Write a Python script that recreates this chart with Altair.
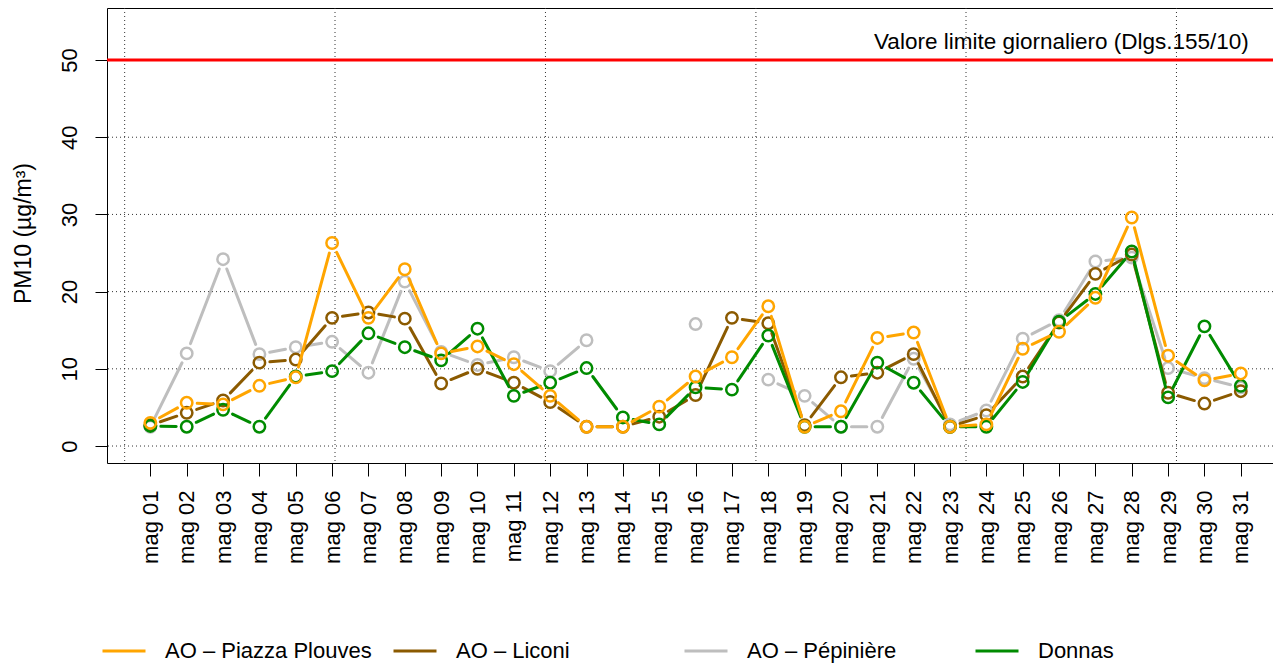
import math
import altair as alt
import pandas as pd

# ---------------- data ----------------
days = [1, 2, 3, 4, 5, 6, 7, 8, 9, 10, 11, 12, 13, 14, 15, 16,
        17, 18, 19, 20, 21, 22, 23, 24, 25, 26, 27, 28, 29, 30, 31]
day_labels = ["mag 01", "mag 02", "mag 03", "mag 04", "mag 05", "mag 06", "mag 07",
              "mag 08", "mag 09", "mag 10", "mag 11", "mag 12", "mag 13", "mag 14",
              "mag 15", "mag 16", "mag 17", "mag 18", "mag 19", "mag 20", "mag 21",
              "mag 22", "mag 23", "mag 24", "mag 25", "mag 26", "mag 27", "mag 28",
              "mag 29", "mag 30", "mag 31"]

series_names = ["AO – Piazza Plouves", "AO – Liconi", "AO – Pépinière", "Donnas"]
series_colors = ["#FFA500", "#8B5A00", "#BEBEBE", "#008B00"]

plouves = [3.0, 5.6, 5.4, 7.8, 8.9, 26.3, 16.6, 22.9, 12.0, 12.9, 10.6, 6.5, 2.5, 2.5,
           5.1, 9.0, 11.5, 18.1, 2.5, 4.5, 14.0, 14.7, 2.5, 2.8, 12.6, 14.8, 19.2,
           29.6, 11.7, 8.5, 9.4]
liconi = [2.7, 4.3, 5.9, 10.8, 11.2, 16.6, 17.3, 16.5, 8.1, 10.0, 8.2, 5.7, 2.5, 2.5,
          3.8, 6.6, 16.6, 15.9, 2.7, 8.9, 9.5, 11.9, 2.5, 4.0, 9.0, 16.0, 22.3, 24.8,
          6.9, 5.5, 7.1]
pepiniere = [2.5, 12.0, 24.2, 11.9, 12.8, 13.5, 9.5, 21.3, 12.2, 10.5, 11.5, 9.7, 13.7,
             None, None, 15.8, None, 8.6, 6.5, 2.5, 2.5, 11.3, 2.8, 4.6, 13.9, 16.3,
             23.9, 24.4, 10.1, 8.8, 7.6]
donnas = [2.6, 2.5, 4.7, 2.5, 9.0, 9.7, 14.6, 12.8, 11.1, 15.2, 6.5, 8.2, 10.1, 3.7,
          2.8, 7.6, 7.3, 14.3, 2.5, 2.5, 10.8, 8.2, 2.5, 2.5, 8.3, 16.1, 19.7, 25.2,
          6.3, 15.5, 7.8]

y_ticks = [0, 10, 20, 30, 40, 50]
x_grid = [0.293, 6.08, 11.87, 17.66, 23.44, 29.23]
limit_value = [50]
limit_label = ["Valore limite giornaliero (Dlgs.155/10)"]

# ---------------- layout / scales ----------------
W, H = 1166, 455
X_DOM = [-0.193, 31.886]
Y_DOM = [-2.2, 56.74]
GAP = 10.5  # px left free around each point (R type = "b")

values = {series_names[0]: plouves, series_names[1]: liconi,
          series_names[2]: pepiniere, series_names[3]: donnas}

# points table
pts_rows = []
for name, vals in values.items():
    for d, v in zip(days, vals):
        if v is not None:
            pts_rows.append({"day": d, "pm10": v, "station": name})
pts_df = pd.DataFrame(pts_rows)

# line segments between consecutive points, shortened like R's type = "b"
kx = W / (X_DOM[1] - X_DOM[0])
ky = H / (Y_DOM[1] - Y_DOM[0])
seg_rows = []
for name, vals in values.items():
    for i in range(len(days) - 1):
        v1, v2 = vals[i], vals[i + 1]
        if v1 is None or v2 is None:
            continue
        d1, d2 = days[i], days[i + 1]
        L = math.hypot((d2 - d1) * kx, (v2 - v1) * ky)
        if L <= 2 * GAP:
            continue
        f = GAP / L
        seg_rows.append({"station": name,
                         "x1": d1 + (d2 - d1) * f, "y1": v1 + (v2 - v1) * f,
                         "x2": d2 - (d2 - d1) * f, "y2": v2 - (v2 - v1) * f})
seg_df = pd.DataFrame(seg_rows)

FONT = "Liberation Sans"
FS = 22

x_scale = alt.Scale(domain=X_DOM, nice=False, zero=False)
y_scale = alt.Scale(domain=Y_DOM, nice=False, zero=False)
color_scale = alt.Scale(domain=series_names, range=series_colors)

label_expr = "[" + ",".join("'%s'" % s for s in day_labels) + "][datum.value - 1]"

x_axis = alt.Axis(values=days, labelExpr=label_expr, title=None, grid=False,
                  domain=False, tickSize=13, tickColor="black", tickWidth=1,
                  labelAngle=270, labelAlign="right", labelBaseline="middle",
                  labelPadding=14, labelFont=FONT, labelFontSize=FS,
                  labelColor="black", labelOverlap=False, labelFlush=False)
y_axis = alt.Axis(values=y_ticks, title="PM10 (µg/m³)", grid=False, domain=False,
                  tickSize=12, tickColor="black", tickWidth=1,
                  labelAngle=270, labelAlign="center", labelBaseline="bottom",
                  labelPadding=14, labelFont=FONT, labelFontSize=FS,
                  labelColor="black", labelFlush=False, labelOverlap=False,
                  titleFont=FONT, titleFontSize=23, titleFontWeight="normal",
                  titleColor="black", titleAngle=270, titleX=-84, titleY=225,
                  titleAlign="center", titleBaseline="middle")

legend = alt.Legend(orient="none", legendX=-6, legendY=620, direction="horizontal",
                    title=None, gridAlign="all", columnPadding=15,
                    symbolType="stroke", symbolSize=1849, symbolStrokeWidth=3,
                    labelOffset=18, labelFont=FONT, labelFontSize=FS,
                    labelColor="black", labelLimit=400, padding=0)

X = lambda f: alt.X(f, scale=x_scale, axis=x_axis)
Y = lambda f: alt.Y(f, scale=y_scale, axis=y_axis)

# grid lines
hgrid = alt.Chart(pd.DataFrame({"g": y_ticks})).mark_rule(
    color="#333333", strokeWidth=1, strokeDash=[1, 3]
).encode(y=Y("g:Q"))

vgrid = alt.Chart(pd.DataFrame({"g": x_grid})).mark_rule(
    color="#333333", strokeWidth=1, strokeDash=[1, 3]
).encode(x=X("g:Q"))

limit = alt.Chart(pd.DataFrame({"v": limit_value})).mark_rule(
    color="#FF0000", strokeWidth=3
).encode(y=Y("v:Q"))

limit_text = alt.Chart(pd.DataFrame({"v": limit_value, "t": limit_label,
                                     "d": [days[-1]]})).mark_text(
    align="right", baseline="alphabetic", dx=8, dy=-11, font=FONT, fontSize=22.5,
    color="black"
).encode(x=X("d:Q"), y=Y("v:Q"), text="t:N")

layers = [hgrid, vgrid, limit, limit_text]
draw_order = [series_names[2], series_names[1], series_names[3], series_names[0]]
for i, name in enumerate(draw_order):
    segs = alt.Chart(seg_df).transform_filter(alt.datum.station == name).mark_rule(
        strokeWidth=3, strokeCap="round"
    ).encode(
        x=X("x1:Q"), x2="x2:Q",
        y=Y("y1:Q"), y2="y2:Q",
        color=alt.Color("station:N", scale=color_scale,
                        legend=legend if i == 0 else None),
    )
    pts = alt.Chart(pts_df).transform_filter(alt.datum.station == name).mark_point(
        filled=False, size=130, strokeWidth=2.5, opacity=1
    ).encode(
        x=X("day:Q"),
        y=Y("pm10:Q"),
        color=alt.Color("station:N", scale=color_scale, legend=None),
    )
    layers += [segs, pts]

chart = alt.layer(*layers).properties(
    width=W, height=H,
    padding={"left": 99, "top": 0, "right": 0, "bottom": 200},
    autosize=alt.AutoSizeParams(type="none"),
    background="white",
).configure_view(stroke="black", strokeWidth=1)

chart.save("out.html", embed_options={"renderer": "svg", "actions": False})
